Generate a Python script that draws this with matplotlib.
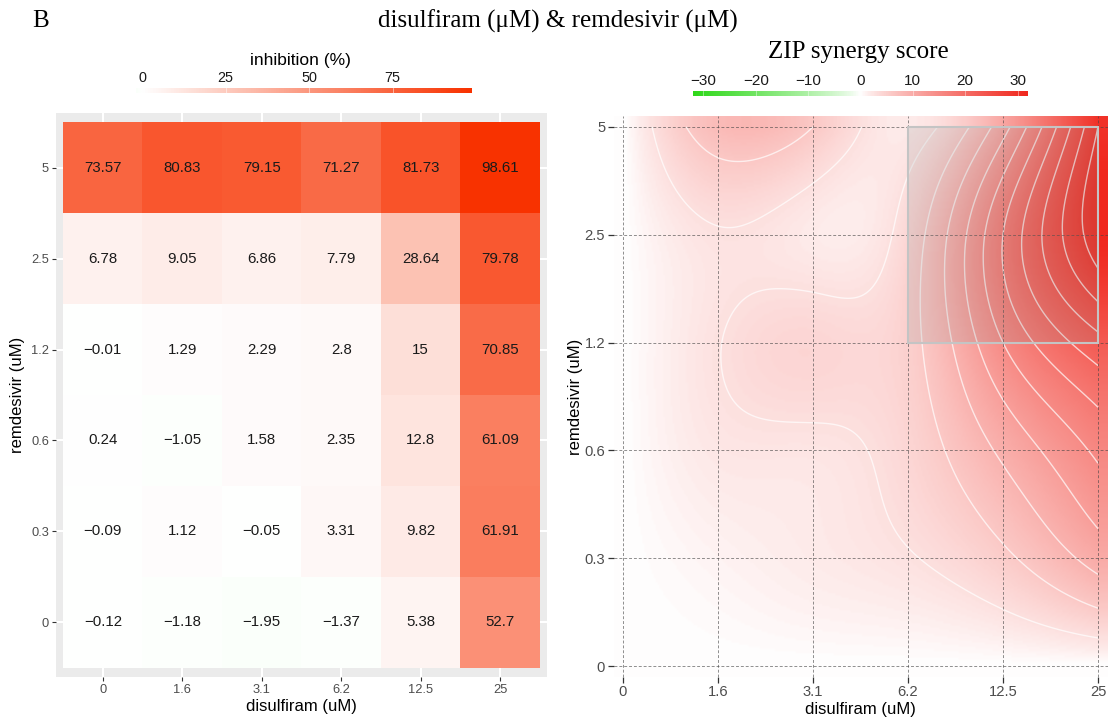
import numpy as np
import matplotlib
matplotlib.use("Agg")
import matplotlib.pyplot as plt
from matplotlib.colors import LinearSegmentedColormap, Normalize
from matplotlib.patches import Rectangle

# ---------------- data ----------------
disulfiram_labels = ["0", "1.6", "3.1", "6.2", "12.5", "25"]
remdesivir_labels = ["0", "0.3", "0.6", "1.2", "2.5", "5"]

# inhibition (%) rows from remdesivir = 0 (bottom) to 5 (top)
inh_r0 = [-0.12, -1.18, -1.95, -1.37, 5.38, 52.7]
inh_r03 = [-0.09, 1.12, -0.05, 3.31, 9.82, 61.91]
inh_r06 = [0.24, -1.05, 1.58, 2.35, 12.8, 61.09]
inh_r12 = [-0.01, 1.29, 2.29, 2.8, 15, 70.85]
inh_r25 = [6.78, 9.05, 6.86, 7.79, 28.64, 79.78]
inh_r5 = [73.57, 80.83, 79.15, 71.27, 81.73, 98.61]

# ZIP synergy scores (estimated) rows from remdesivir = 0 to 5
zip_r0 = [0, 0, 0, 0, 0, 0]
zip_r03 = [0, 1.0, 1.8, 2.8, 5.4, 10.2]
zip_r06 = [0, 2.2, 2.4, 4.2, 9.6, 15.6]
zip_r12 = [0, 2.9, 4.2, 5.0, 15.0, 23.0]
zip_r25 = [0, 2.8, 1.8, 4.2, 18.0, 32.0]
zip_r5 = [0, 7.8, 6.0, 1.8, 10.8, 30.0]

syn_ticks = [-30, -20, -10, 0, 10, 20, 30]
inh_ticks = [0, 25, 50, 75]

W, H = 1111, 720
SANS = "Liberation Sans"
SERIF = "Liberation Serif"

inh = np.array([inh_r0, inh_r03, inh_r06, inh_r12, inh_r25, inh_r5])
zs = np.array([zip_r0, zip_r03, zip_r06, zip_r12, zip_r25, zip_r5], dtype=float)

fig = plt.figure(figsize=(W / 100, H / 100), dpi=100)


def fx(px):
    return px / W


def fy(py):
    return 1 - py / H


def fmt(v):
    s = f"{v:g}"
    return s.replace("-", "\u2212")


# ---------------- left: inhibition heatmap ----------------
inh_cmap = LinearSegmentedColormap.from_list(
    "inh", [(0.0, "#00ff00"), (0.5, "#ffffff"), (1.0, "#f83200")])
vmax_i = inh.max()
vmin_i = inh.min()
inh_norm = Normalize(-vmax_i, vmax_i)

ax1 = fig.add_axes([fx(56), fy(677), fx(547) - fx(56), (677 - 113) / H])
ax1.set_facecolor("#EBEBEB")
ax1.imshow(inh, cmap=inh_cmap, norm=inh_norm, origin="lower",
           extent=(-0.5, 5.5, -0.5, 5.5), aspect="auto",
           interpolation="nearest", zorder=2)
ax1.set_xlim(-0.59, 5.59)
ax1.set_ylim(-0.6, 5.6)
ax1.set_axisbelow(True)
ax1.grid(True, color="white", lw=1.5)
for sp in ax1.spines.values():
    sp.set_visible(False)
ax1.set_xticks(range(6))
ax1.set_xticklabels(disulfiram_labels)
ax1.set_yticks(range(6))
ax1.set_yticklabels(remdesivir_labels)
ax1.tick_params(length=3, width=0.8, color="#333333", labelcolor="#4D4D4D",
                labelsize=9.3, pad=2)
for lab in ax1.get_xticklabels() + ax1.get_yticklabels():
    lab.set_family(SANS)
for i in range(6):
    for j in range(6):
        ax1.text(j, i, fmt(inh[i, j]), ha="center", va="center",
                 fontsize=10.8, color="#1A1A1A", family=SANS, zorder=3)
ax1.set_xlabel("disulfiram (uM)", fontsize=12, family=SANS, labelpad=2)
ax1.set_ylabel("remdesivir (uM)", fontsize=12, family=SANS, labelpad=4)

# inhibition colorbar
cax1 = fig.add_axes([fx(135.5), fy(93.5), 336 / W, 6 / H])
grad_i = np.linspace(vmin_i, vmax_i, 400)[None, :]
cax1.imshow(grad_i, cmap=inh_cmap, norm=inh_norm, aspect="auto",
            extent=(vmin_i, vmax_i, 0, 1))
cax1.set_xlim(vmin_i, vmax_i)
for t in inh_ticks:
    cax1.axvline(t, color="white", lw=0.6, alpha=0.6)
cax1.set_yticks([])
cax1.set_xticks(inh_ticks)
cax1.set_xticklabels([fmt(t) for t in inh_ticks])
cax1.xaxis.tick_top()
cax1.tick_params(axis="x", length=0, pad=1.5, labelsize=10.4, labelcolor="#1A1A1A")
for lab in cax1.get_xticklabels():
    lab.set_family(SANS)
for sp in cax1.spines.values():
    sp.set_visible(False)
fig.text(fx(300), fy(60), "inhibition (%)", ha="center", va="center",
         fontsize=12.5, family=SANS)

# ---------------- right: ZIP synergy surface ----------------


def nat_spline(x, y, t):
    n = len(x)
    h = np.diff(x)
    M = np.zeros(n)
    a = np.zeros((n - 2, n - 2))
    b = np.zeros(n - 2)
    for i in range(1, n - 1):
        a[i - 1, i - 1] = 2 * (h[i - 1] + h[i])
        if i > 1:
            a[i - 1, i - 2] = h[i - 1]
        if i < n - 2:
            a[i - 1, i] = h[i]
        b[i - 1] = 6 * ((y[i + 1] - y[i]) / h[i] - (y[i] - y[i - 1]) / h[i - 1])
    M[1:-1] = np.linalg.solve(a, b)
    t = np.clip(t, x[0], x[-1])
    i = np.clip(np.searchsorted(x, t) - 1, 0, n - 2)
    x0, x1 = x[i], x[i + 1]
    hh = x1 - x0
    return ((M[i] * (x1 - t) ** 3 + M[i + 1] * (t - x0) ** 3) / (6 * hh)
            + (y[i] / hh - M[i] * hh / 6) * (x1 - t)
            + (y[i + 1] / hh - M[i + 1] * hh / 6) * (t - x0))


def spline_matrix(n, t):
    xs = np.arange(n, dtype=float)
    A = np.zeros((len(t), n))
    for k in range(n):
        e = np.zeros(n)
        e[k] = 1
        A[:, k] = nat_spline(xs, e, t)
    return A


t_disp = np.linspace(-0.1, 5.1, 261)
A_disp = spline_matrix(6, t_disp)
Z_disp = A_disp @ zs @ A_disp.T
t_cont = np.linspace(0, 5, 251)
A_cont = spline_matrix(6, t_cont)
Z_cont = A_cont @ zs @ A_cont.T

# diverging colormap, slightly faster rise away from white
gam = 0.82
pos = np.linspace(0, 1, 41)
syn_cols = []
green = np.array([0x2f, 0xd8, 0x1a]) / 255
red = np.array([0xf0, 0x28, 0x1e]) / 255
white = np.ones(3)
for p in pos:
    d = abs(p - 0.5) * 2
    f = d ** gam
    end = green if p < 0.5 else red
    syn_cols.append((p, tuple(white + (end - white) * f)))
syn_cmap = LinearSegmentedColormap.from_list("syn", syn_cols)
syn_lim = 32
syn_norm = Normalize(-syn_lim, syn_lim)

ax2 = fig.add_axes([fx(613.5), fy(677), 494 / W, (677 - 116) / H])
ax2.imshow(Z_disp, cmap=syn_cmap, norm=syn_norm, origin="lower",
           extent=(-0.1, 5.1, -0.1, 5.1), aspect="auto",
           interpolation="bilinear", zorder=1)
ax2.contour(t_cont, t_cont, Z_cont, levels=np.arange(3, 40, 3),
            colors="white", linewidths=1.0, alpha=0.7, zorder=2)
for v in range(6):
    ax2.axvline(v, color="#444444", lw=0.7, ls=(0, (3, 2)), alpha=0.6, zorder=3)
    ax2.axhline(v, color="#444444", lw=0.7, ls=(0, (3, 2)), alpha=0.6, zorder=3)
ax2.add_patch(Rectangle((3, 3), 2, 2, facecolor="#8c8c8c", alpha=0.18,
                        edgecolor="none", zorder=4))
ax2.add_patch(Rectangle((3, 3), 2, 2, facecolor="none", edgecolor="#c4c4c4",
                        lw=1.5, zorder=5))
ax2.set_xlim(-0.1, 5.1)
ax2.set_ylim(-0.1, 5.1)
for sp in ax2.spines.values():
    sp.set_visible(False)
ax2.set_xticks(range(6))
ax2.set_xticklabels(disulfiram_labels)
ax2.set_yticks(range(6))
ax2.set_yticklabels(remdesivir_labels)
ax2.tick_params(length=4, width=0.9, color="#333333", labelcolor="#4D4D4D",
                labelsize=10.6, pad=2)
for lab in ax2.get_xticklabels() + ax2.get_yticklabels():
    lab.set_family(SANS)
ax2.set_xlabel("disulfiram (uM)", fontsize=12, family=SANS, labelpad=2)
ax2.set_ylabel("remdesivir (uM)", fontsize=12, family=SANS, labelpad=1)

# synergy colorbar
cax2 = fig.add_axes([fx(693), fy(96), 335 / W, 5.5 / H])
grad_s = np.linspace(-syn_lim, syn_lim, 400)[None, :]
cax2.imshow(grad_s, cmap=syn_cmap, norm=syn_norm, aspect="auto",
            extent=(-syn_lim, syn_lim, 0, 1))
cax2.set_xlim(-syn_lim, syn_lim)
for t in syn_ticks:
    cax2.axvline(t, color="white", lw=0.6, alpha=0.5)
cax2.set_yticks([])
cax2.set_xticks(syn_ticks)
cax2.set_xticklabels([fmt(t) for t in syn_ticks])
cax2.xaxis.tick_top()
cax2.tick_params(axis="x", length=0, pad=2, labelsize=11, labelcolor="#1A1A1A")
for lab in cax2.get_xticklabels():
    lab.set_family(SANS)
for sp in cax2.spines.values():
    sp.set_visible(False)
fig.text(fx(858), fy(52), "ZIP synergy score", ha="center", va="center",
         fontsize=18, family=SERIF)

# ---------------- titles ----------------
fig.text(fx(558), fy(21), "disulfiram (\u03bcM) & remdesivir (\u03bcM)",
         ha="center", va="center", fontsize=18, family=SERIF)
fig.text(fx(41), fy(21), "B", ha="center", va="center", fontsize=18,
         family=SERIF)

fig.savefig("out.png", dpi=100)
